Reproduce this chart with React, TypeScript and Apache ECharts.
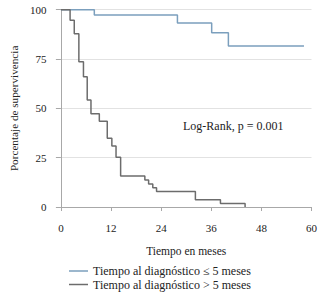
import React, { useEffect, useRef } from "react";
import * as echarts from "echarts";

const seriesNames = [
  "Tiempo al diagnóstico ≤ 5 meses",
  "Tiempo al diagnóstico > 5 meses",
];

// [months, survival %] — Kaplan-Meier steps
const shortDelay: [number, number][] = [
  [0, 100],
  [8.0, 97.3],
  [27.9, 93.2],
  [36.1, 88.3],
  [40.1, 81.6],
  [58.2, 81.6],
];

const longDelay: [number, number][] = [
  [0, 100],
  [2.2, 94.6],
  [3.2, 87.8],
  [4.3, 73.6],
  [5.4, 66.0],
  [6.3, 54.2],
  [7.2, 47.3],
  [9.2, 43.5],
  [11.1, 34.8],
  [12.2, 30.9],
  [13.2, 25.2],
  [14.3, 15.7],
  [20.1, 13.7],
  [21.0, 11.7],
  [22.0, 9.8],
  [22.9, 7.8],
  [32.2, 3.7],
  [38.2, 1.8],
  [44.1, 0],
];

const xTicks = { min: 0, max: 60, interval: 12 };
const yTicks = { min: 0, max: 100, interval: 25 };

const annotation = "Log-Rank, p = 0.001";
const xName = "Tiempo en meses";
const yName = "Porcentaje de supervivencia";

const FONT = "Liberation Serif, DejaVu Serif, serif";
const BLUE = "#7b9fbd";
const GRAY = "#6c6c6c";

export default function App() {
  const ref = useRef<HTMLDivElement>(null);
  useEffect(() => {
    if (!ref.current) return;
    const chart = echarts.init(ref.current, undefined, { renderer: "svg" });
    const legendBase = {
      left: 69,
      icon: "rect",
      itemWidth: 19,
      itemHeight: 1.5,
      itemGap: 0,
      padding: 0,
      textStyle: { fontFamily: FONT, fontSize: 12, color: "#222" },
    };
    chart.setOption({
      animation: false,
      textStyle: { fontFamily: FONT },
      grid: { left: 52, right: 6.7, top: 9.7, bottom: 89, containLabel: false },
      xAxis: {
        type: "value",
        ...xTicks,
        offset: 6.5,
        name: xName,
        nameLocation: "middle",
        nameGap: 31,
        nameTextStyle: { fontFamily: FONT, fontSize: 11.5, color: "#222" },
        axisLine: { show: true, lineStyle: { color: "#a8a8a8", width: 1 } },
        axisTick: { show: true, length: 4, lineStyle: { color: "#a8a8a8" } },
        axisLabel: { margin: 9, fontFamily: FONT, fontSize: 11, color: "#222" },
        splitLine: { show: false },
      },
      yAxis: {
        type: "value",
        ...yTicks,
        offset: 2.5,
        name: yName,
        nameLocation: "middle",
        nameGap: 37,
        nameTextStyle: { fontFamily: FONT, fontSize: 11.2, color: "#222" },
        axisLine: { show: true, lineStyle: { color: "#a8a8a8", width: 1 } },
        axisTick: { show: true, length: 5, lineStyle: { color: "#a8a8a8" } },
        axisLabel: { margin: 12, fontFamily: FONT, fontSize: 11, color: "#222" },
        splitLine: { show: true, lineStyle: { color: "#e2e2e2", width: 1 } },
      },
      legend: [
        { ...legendBase, top: 265, data: [seriesNames[0]] },
        { ...legendBase, top: 278.5, data: [seriesNames[1]] },
      ],
      graphic: [
        {
          type: "text",
          left: 183,
          top: 120,
          style: { text: annotation, fontFamily: FONT, fontSize: 12, fill: "#222" },
        },
      ],
      series: [
        {
          name: seriesNames[0],
          type: "line",
          step: "end",
          showSymbol: false,
          data: shortDelay,
          color: BLUE,
          lineStyle: { color: BLUE, width: 1.5 },
        },
        {
          name: seriesNames[1],
          type: "line",
          step: "end",
          showSymbol: false,
          data: longDelay,
          color: GRAY,
          lineStyle: { color: GRAY, width: 1.5 },
        },
      ],
    });
    return () => chart.dispose();
  }, []);
  return (
    <div
      ref={ref}
      style={{ position: "fixed", left: 0, top: 0, width: 320, height: 296, background: "#fff" }}
    />
  );
}
